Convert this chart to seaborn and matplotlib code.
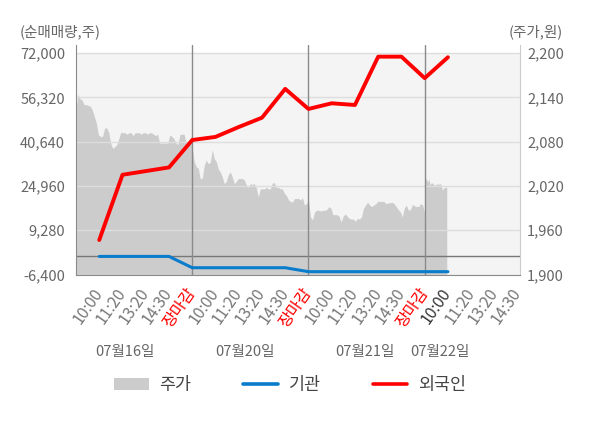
import numpy as np
import matplotlib
matplotlib.use("Agg")
import matplotlib.pyplot as plt
from matplotlib.patches import Patch
from matplotlib.lines import Line2D
import seaborn as sns

# x axis: 4 trading days, 5 labelled slots each
dates = ["07월16일", "07월20일", "07월21일", "07월22일"]
times = ["10:00", "11:20", "13:20", "14:30", "장마감"]

# 주가 (intraday, won) - one list per day
p_0716 = [2125, 2144, 2138, 2136, 2130, 2130, 2129, 2128, 2123, 2114, 2105, 2089, 2087, 2087,
          2098, 2099, 2093, 2078, 2071, 2073, 2076, 2084, 2093, 2092, 2092, 2090, 2092, 2092,
          2088, 2092, 2092, 2092, 2090, 2092, 2092, 2090, 2092, 2092, 2090, 2088, 2090, 2078,
          2078, 2078, 2078, 2078, 2089, 2087, 2084, 2078, 2076, 2090, 2090, 2090, 2078, 2078,
          2084, 2090]
p_0720 = [2071, 2053, 2046, 2044, 2030, 2030, 2048, 2055, 2050, 2052, 2069, 2057, 2053, 2043,
          2039, 2032, 2023, 2026, 2035, 2039, 2032, 2023, 2026, 2030, 2030, 2030, 2028, 2021,
          2018, 2023, 2022, 2023, 2017, 2005, 2016, 2016, 2016, 2018, 2016, 2016, 2024, 2024,
          2018, 2018, 2016, 2016, 2010, 2007, 2001, 1999, 1998, 2003, 2003, 2003, 2001, 2004,
          1994, 1996, 2001]
p_0721 = [2001, 1978, 1974, 1985, 1987, 1987, 1986, 1987, 1987, 1988, 1992, 1990, 1981, 1981,
          1981, 1979, 1971, 1979, 1982, 1979, 1976, 1975, 1975, 1972, 1976, 1975, 1978, 1990,
          1994, 1998, 1994, 1992, 1994, 1996, 1999, 1999, 1999, 1999, 1996, 1997, 1997, 1998,
          1996, 1992, 1988, 1985, 1978, 1990, 1994, 1987, 1988, 1995, 1993, 1992, 1992, 1996,
          1994, 1983]
p_0722 = [2035, 2030, 2028, 2025, 2030, 2021, 2024, 2024, 2023, 2021, 2021, 2023, 2021, 2024,
          2021, 2024, 2019, 2014, 2017, 2018, 2018, 2018]
day4_covered = 0.19  # share of the last day that has data (up to ~10:00)

# 순매매량 (shares) at each labelled slot, starting at 07/16 10:00
foreign = [5800, 28900, 30200, 31500, 41200, 42300, 45800, 49100, 59300, 52200,
           54200, 53600, 70700, 70700, 63100, 70500]
inst = [0, 0, 0, 0, -4000, -4000, -4000, -4000, -4000, -5400,
        -5400, -5400, -5400, -5400, -5400, -5400]

vol_ticks = [-6400, 9280, 24960, 40640, 56320, 72000]
price_ticks = [1900, 1960, 2020, 2080, 2140, 2200]

sns.set_style("white")
plt.rcParams["font.family"] = ["Noto Sans CJK KR", "DejaVu Sans"]

fig = plt.figure(figsize=(6, 4.28), dpi=100)
ax = fig.add_axes([76 / 600, 1 - 274.5 / 428, 444 / 600, 229.5 / 428])
ax2 = ax.twinx()
ax.set_zorder(ax2.get_zorder() + 1)
ax.patch.set_visible(False)

# price area on right axis
days = [p_0716, p_0720, p_0721]
px = np.concatenate([np.linspace(5 * d, 5 * d + 5, len(p)) for d, p in enumerate(days)]
                    + [np.linspace(15, 15 + 5 * day4_covered, len(p_0722))])
py = np.concatenate(days + [p_0722])
ax2.axhspan(price_ticks[0], price_ticks[-1], color="#f4f4f4", lw=0, zorder=0)
ax2.fill_between(px, price_ticks[0], py, color="#cccccc", lw=0, zorder=1)

# net buying lines on left axis
idx = np.arange(1, len(foreign) + 1)
sns.lineplot(x=idx, y=inst, ax=ax, color="#0a7ccc", lw=2.2, legend=False)
sns.lineplot(x=idx, y=foreign, ax=ax, color="#ff0000", lw=2.8, legend=False)

vol_top = vol_ticks[-1] + (vol_ticks[-1] - vol_ticks[0]) * 8 / 221.5
price_top = price_ticks[-1] + (price_ticks[-1] - price_ticks[0]) * 8 / 221.5
ax.set_ylim(vol_ticks[0], vol_top)
ax2.set_ylim(price_ticks[0], price_top)
ax.set_xlim(0, 19.1)

ax.set_yticks(vol_ticks)
ax.set_yticklabels([f"{v:,}" for v in vol_ticks])
ax2.set_yticks(price_ticks)
ax2.set_yticklabels([f"{v:,}" for v in price_ticks])
ax.yaxis.grid(True, color="#dddddd", lw=1)
ax.xaxis.grid(False)
ax.axhline(0, color="#777777", lw=1, zorder=1.5)
for b in [5, 10, 15]:
    ax.axvline(b, color="#8a8a8a", lw=1, zorder=1.5)

ax.tick_params(axis="y", length=0, labelcolor="#666666", labelsize=10.5, pad=8)
ax2.tick_params(axis="y", length=0, labelcolor="#666666", labelsize=10.5, pad=5)

labels = times * 3 + times[:4]
ax.set_xticks(np.arange(1, len(labels) + 1))
ax.set_xticklabels(labels)
ax.set_xticks([0, 5, 10, 15], minor=True)
ax.tick_params(axis="x", which="major", length=0, labelsize=11.5, pad=11)
ax.tick_params(axis="x", which="minor", length=5, color="#999999", direction="out")
for i, lab in enumerate(ax.get_xticklabels()):
    lab.set_rotation(55)
    lab.set_ha("right")
    lab.set_va("center")
    lab.set_rotation_mode("anchor")
    if lab.get_text() == "장마감":
        lab.set_color("#ff0000")
    elif i == 15:
        lab.set_color("#333333")
    else:
        lab.set_color("#777777")

for s in ["top", "right"]:
    ax.spines[s].set_visible(False)
for s in ["top", "left", "bottom"]:
    ax2.spines[s].set_visible(False)
ax.spines["left"].set_color("#8a8a8a")
ax.spines["bottom"].set_color("#8a8a8a")
ax2.spines["right"].set_color("#cccccc")

# date labels under the time ticks
for d, xpos in zip(dates, [125, 245, 365, 440]):
    fig.text(xpos / 600, 1 - 352 / 428, d, ha="center", va="center",
             color="#666666", fontsize=10.5)

fig.text(20 / 600, 1 - 32 / 428, "(순매매량,주)", ha="left", va="center",
         color="#666666", fontsize=10.5)
fig.text(563 / 600, 1 - 32 / 428, "(주가,원)", ha="right", va="center",
         color="#666666", fontsize=10.5)

handles = [Patch(facecolor="#cccccc", edgecolor="none"),
           Line2D([], [], color="#0a7ccc", lw=2.6),
           Line2D([], [], color="#ff0000", lw=2.6)]
leg = fig.legend(handles, ["주가", "기관", "외국인"], loc="center",
                 bbox_to_anchor=(290 / 600, 1 - 385 / 428), ncol=3, frameon=False,
                 fontsize=12.5, handlelength=2.0, handletextpad=0.6, columnspacing=3.0)
for t in leg.get_texts():
    t.set_color("#444444")

fig.savefig("out.png", dpi=100)
